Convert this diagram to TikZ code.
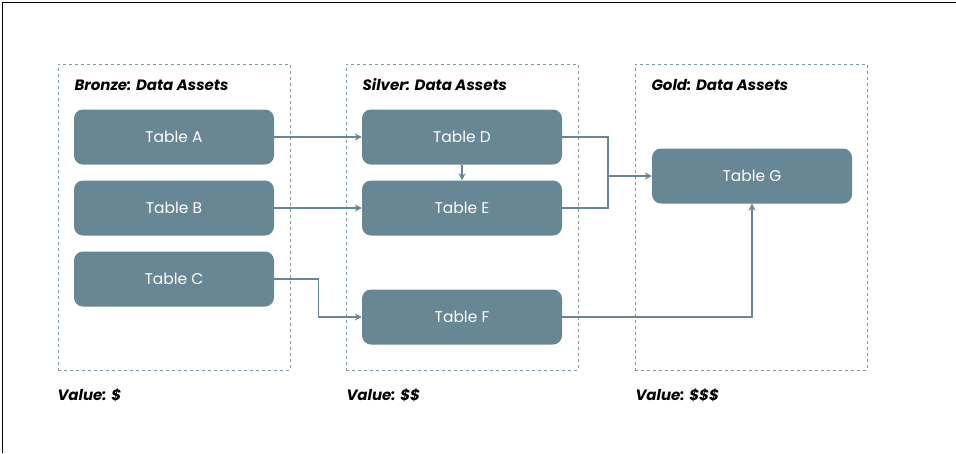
\documentclass[tikz,border=0pt]{standalone}
\usepackage{fontspec}
\setmainfont{Poppins}
\usetikzlibrary{arrows.meta}
\definecolor{slate}{HTML}{688794}
\definecolor{dashgray}{HTML}{7E99A3}
\begin{document}
\begin{tikzpicture}[x=1pt, y=-1pt, font=\fontsize{15.5}{18}\selectfont,
  zone/.style={draw=dashgray, dashed, line width=0.9pt, minimum width=232pt,
               minimum height=306pt, inner sep=0pt},
  tbl/.style={fill=slate, rounded corners=9pt, text=white, minimum width=200pt,
              minimum height=55pt, inner sep=0pt},
  title/.style={anchor=west, font=\fontsize{15}{18}\selectfont\bfseries\itshape},
  arr/.style={-{Stealth[length=7pt, width=7pt]}, draw=slate, line width=1.4pt},
  wire/.style={draw=slate, line width=1.4pt}
]
  \useasboundingbox (0,0) rectangle (956,453);
  % cadre
  \draw[line width=1pt] (2,453) -- (2,2) -- (956,2);
  % zones
  \node[zone] (bronze) at (174,217) {};
  \node[zone] (silver) at (462,217) {};
  \node[zone] (gold)   at (751,217) {};
  \node[title] (tbronze) at (71,85) {Bronze: Data Assets};
  \node[title] (tsilver) at (359,85) {Silver: Data Assets};
  \node[title] (tgold)   at (648,85) {Gold: Data Assets};
  \node[title] (vbronze) at (54,395) {Value: \$};
  \node[title] (vsilver) at (343,395) {Value: \$\$};
  \node[title] (vgold)   at (632,395) {Value: \$\$\$};
  % tables
  \node[tbl] (tA) at (174,137) {Table A};
  \node[tbl] (tB) at (174,208) {Table B};
  \node[tbl] (tC) at (174,279) {Table C};
  \node[tbl] (tD) at (462,137) {Table D};
  \node[tbl] (tE) at (462,208) {Table E};
  \node[tbl] (tF) at (462,317) {Table F};
  \node[tbl] (tG) at (752,176) {Table G};
  \coordinate (jDE) at (608,176);
  % flux
  \draw[arr] (tA) -- (tD);
  \draw[arr] (tB) -- (tE);
  \draw[arr] (tC.east) -- ++(44,0) |- (tF.west);
  \draw[arr] (tD) -- (tE);
  \draw[wire] (tD.east) -| (jDE);
  \draw[wire] (tE.east) -| (jDE);
  \draw[arr] (jDE) -- (tG);
  \draw[arr] (tF.east) -| (tG.south);
\end{tikzpicture}
\end{document}
